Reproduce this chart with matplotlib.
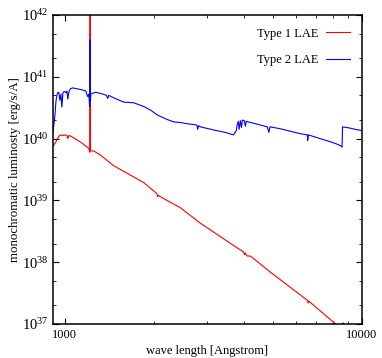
import numpy as np
import matplotlib
matplotlib.use("Agg")
import matplotlib.pyplot as plt
from matplotlib.ticker import FixedLocator, NullFormatter, FixedFormatter, LogLocator

plt.rcParams['font.family'] = ['Liberation Serif', 'DejaVu Serif']
plt.rcParams['mathtext.fontset'] = 'custom'
plt.rcParams['mathtext.rm'] = 'Liberation Serif'

# Type 2 LAE (blue): wavelength [A], log10 luminosity
wave2 = [912, 926, 933, 940, 947, 955, 962, 970, 977, 985, 992, 1000, 1008, 1016,
         1023, 1031, 1039, 1047, 1064, 1089, 1114, 1140, 1158, 1176, 1185, 1194,
         1204, 1210, 1214, 1216, 1218, 1222, 1251, 1271, 1321, 1380, 1394, 1405,
         1460, 1578, 1704, 1841, 1944, 2051, 2183, 2322, 2449, 2587, 2780, 2800,
         2820, 2860, 3163, 3470, 3690, 3777, 3800, 3836, 3860, 3896, 3930, 3956,
         4018, 4050, 4081, 4143, 4307, 4545, 4800, 4860, 4900, 5306, 5728, 6191,
         6550, 6563, 6600, 7227, 7808, 8249, 8500, 8570, 8600, 9114, 9474, 10000]
logL2 = [40.10, 40.38, 40.60, 40.70, 40.75, 40.74, 40.62, 40.72, 40.51, 40.74,
         40.76, 40.76, 40.74, 40.77, 40.64, 40.75, 40.79, 40.81, 40.82, 40.81,
         40.80, 40.79, 40.78, 40.77, 40.72, 40.68, 40.72, 40.55, 40.52, 41.60,
         40.60, 40.72, 40.74, 40.75, 40.73, 40.70, 40.65, 40.70, 40.66, 40.59,
         40.58, 40.52, 40.46, 40.38, 40.32, 40.27, 40.26, 40.24, 40.22, 40.15,
         40.21, 40.19, 40.14, 40.10, 40.06, 40.13, 40.22, 40.28, 40.15, 40.29,
         40.18, 40.30, 40.29, 40.20, 40.28, 40.27, 40.25, 40.22, 40.19, 40.10,
         40.19, 40.16, 40.12, 40.08, 40.06, 39.97, 40.06, 40.00, 39.95, 39.91,
         39.88, 39.86, 40.19, 40.17, 40.15, 40.13]

# Type 1 LAE (red)
wave1 = [912, 926, 940, 955, 970, 985, 1000, 1016, 1023, 1031, 1047, 1089, 1140,
         1176, 1204, 1212, 1216, 1220, 1251, 1321, 1460, 1704, 1841, 2040, 2051,
         2060, 2449, 2860, 3806, 3990, 4020, 4050, 4100, 4210, 4915, 6560, 6590,
         6620, 8249, 8600, 8630, 8660, 10000]
logL1 = [39.88, 39.92, 39.98, 40.04, 40.06, 40.05, 40.06, 40.05, 40.00, 40.05,
         40.04, 39.99, 39.93, 39.88, 39.84, 39.78, 42.50, 39.80, 39.80, 39.73,
         39.56, 39.38, 39.29, 39.11, 39.06, 39.08, 38.88, 38.63, 38.23, 38.17,
         38.12, 38.15, 38.10, 38.10, 37.84, 37.38, 37.34, 37.37, 36.98, 36.92,
         37.02, 36.91, 36.70]

fig = plt.figure(figsize=(3.82, 3.58), dpi=100)
ax = fig.add_axes([53 / 382, 34 / 358, 309 / 382, 309 / 358])

ax.plot(wave1, 10 ** np.array(logL1), color='#ff0000', lw=0.8, label='Type 1 LAE')
ax.plot(wave2, 10 ** np.array(logL2), color='#0000ff', lw=0.8, label='Type 2 LAE')

ax.set_xscale('log')
ax.set_yscale('log')
ax.set_xlim(912, 10000)
ax.set_ylim(1e37, 1e42)

ax.xaxis.set_major_locator(FixedLocator([1000, 10000]))
ax.xaxis.set_major_formatter(FixedFormatter(['1000', '10000']))
ax.xaxis.set_minor_locator(FixedLocator([k * 1000 for k in range(2, 10)]))
ax.xaxis.set_minor_formatter(NullFormatter())
ax.yaxis.set_major_locator(LogLocator(base=10, numticks=10))
ax.yaxis.set_minor_locator(LogLocator(base=10, subs=(2.0, 5.0), numticks=10))
ax.yaxis.set_minor_formatter(NullFormatter())

ax.tick_params(which='both', direction='in', top=True, right=True)
ax.tick_params(axis='x', labelsize=9)
ax.tick_params(axis='y', labelsize=10.5, pad=3)
ax.tick_params(which='major', length=4, width=0.8)
ax.tick_params(which='minor', length=2.5, width=0.6)
for s in ax.spines.values():
    s.set_linewidth(1.1)

ax.set_xlabel('wave length [Angstrom]', fontsize=9, labelpad=3)
ax.set_ylabel('monochromatic luminosty [erg/s/A]', fontsize=9.3, labelpad=1)

ax.legend(loc='upper right', frameon=False, markerfirst=False, fontsize=9,
          handlelength=1.9, handletextpad=0.55, labelspacing=1.2, borderaxespad=0.6)

fig.savefig('out.png', dpi=100)
